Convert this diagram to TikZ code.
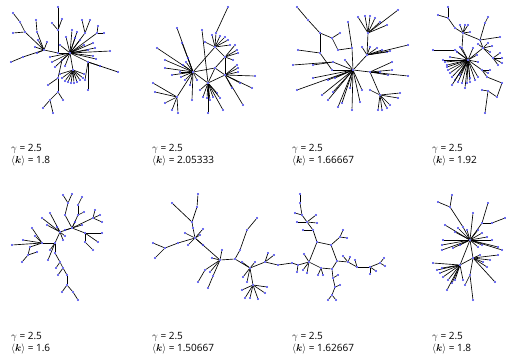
\documentclass[tikz,border=0pt]{standalone}
\usepackage{amsmath,bm}
\usepackage{fontspec}
\setmainfont{Open Sans}
\usetikzlibrary{calc}
\definecolor{dotblue}{RGB}{60,60,235}
\tikzset{
  dot/.style={circle,fill=dotblue,draw=none,inner sep=0pt,minimum size=2.2pt},
  edge/.style={draw=black,line width=0.65pt},
  lab/.style={anchor=base west,inner sep=0pt,font=\fontsize{10}{12}\selectfont}
}
\newcommand\nodes[1]{\foreach \n/\x/\y in {#1}{\node[dot] (\n) at (\x,\y) {};}}
\newcommand\edges[1]{\foreach \p/\q in {#1}{\draw[edge] (\p) -- (\q);}}
\newcommand\spokes[3]{\foreach \x/\y [count=\i] in {#3}{\node[dot] (#2\i) at (\x,\y) {}; \draw[edge] (#1) -- (#2\i);}}
\begin{document}
\begin{tikzpicture}[x=1pt,y=-1pt]
\useasboundingbox (0,0) rectangle (506,354);
% ---------------- graph 1
\nodes{aA/70/53, aB/73/70, aC/44/50, aV/58/53, aVa/58/30, aVb/58/7, aVc/52/23, aVd/62/19, aP/25/32, aPa/20/22, aPb/13/13, aPc/13/33, aQ/23/57, aQa/11/62, aR/37/32, aRa/36/20, aL/62/60, aLa/58/78, aLb/48/85, aLc/58/92, aLd/50/100, aLe/43/108, aLf/53/113, aLg/63/100, aD/88/62, aE/85/33, aEa/82/20, aEb/90/20, aF/97/33, aFa/98/26, aFb/104/33}
\edges{aA/aB, aA/aV, aV/aC, aV/aVa, aVa/aVb, aVa/aVc, aVa/aVd, aC/aP, aP/aPa, aPa/aPb, aP/aPc, aC/aQ, aQ/aQa, aC/aR, aR/aRa, aA/aL, aL/aLa, aLa/aLb, aLa/aLc, aLc/aLd, aLd/aLe, aLd/aLf, aLc/aLg, aA/aD, aA/aE, aE/aEa, aE/aEb, aA/aF, aF/aFa, aF/aFb}
\spokes{aA}{aAs}{72/30, 77/32, 66/37, 93/43, 95/48, 110/51, 93/56, 96/59, 52/62, 55/67, 65/66, 80/40, 84/45, 75/38, 60/45, 88/50, 50/57}
\spokes{aB}{aBs}{62/78, 65/81, 68/82, 71/83, 74/83, 77/82, 80/80, 83/78, 84/74, 60/74}
\spokes{aD}{aDs}{118/72, 85/80, 88/90, 100/66}
\spokes{aC}{aCs}{35/47, 37/53, 38/40, 47/42}
% ---------------- graph 2
\nodes{bA/193/72, bB/215/68, bC/208/83, bD/225/75, bE/215/47, bF/225/57, bG/216/33, bGa/228/7, bH/177/97, bI/202/30}
\edges{bA/bB, bB/bC, bA/bC, bB/bD, bC/bD, bA/bE, bE/bF, bF/bD, bB/bF, bE/bG, bG/bGa, bI/bC, bH/bA}
\spokes{bA}{bAs}{177/28, 157/48, 165/60, 165/68, 182/43, 186/62, 183/65, 180/72, 181/77, 185/80, 190/85, 192/100, 197/80, 188/58, 172/75}
\spokes{bE}{bEs}{212/35, 220/36, 225/37, 228/40, 230/45, 205/42}
\spokes{bF}{bFs}{235/45, 237/50, 238/53, 233/60}
\spokes{bH}{bHs}{165/103, 172/110, 178/113, 155/92, 153/83}
\spokes{bC}{bCs}{203/97, 207/98, 210/100, 213/97, 217/93, 208/113, 223/110, 220/98, 200/90}
\spokes{bD}{bDs}{237/65, 238/68, 238/72, 255/76, 252/88, 240/83, 243/105, 232/88}
% ---------------- graph 3
\nodes{cM/353/70, cB/368/33, cC/367/55, cD/370/72, cE/380/95, cP/297/7, cPa/308/20, cPb/320/33, cPc/332/38, cPd/340/33, cPe/338/50, cPf/352/48, cQ/320/53, cQa/332/70, cQb/298/50, cR/333/62, cRa/293/65, cRb/313/65, cS/348/22}
\edges{cP/cPa, cPa/cPb, cPb/cPc, cPc/cPd, cPc/cPe, cPe/cPf, cPf/cM, cPb/cQ, cQ/cQa, cQa/cM, cQ/cQb, cR/cRa, cR/cRb, cR/cM, cS/cPf, cM/cC, cM/cD, cB/cC, cD/cE}
\spokes{cM}{cMs}{297/90, 313/78, 328/80, 322/95, 328/100, 333/92, 338/107, 342/103, 352/110, 350/88, 360/102, 362/90, 345/60, 335/78}
\spokes{cB}{cBs}{358/17, 365/16, 370/16, 375/18, 380/22, 387/25, 398/10}
\spokes{cC}{cCs}{377/48, 382/50, 387/52, 390/51, 408/45, 362/47, 370/47}
\spokes{cD}{cDs}{392/62, 392/70, 388/75, 408/76, 380/72}
\spokes{cE}{cEs}{400/93, 398/98, 390/105, 387/108, 382/110, 378/110, 370/90}
% ---------------- graph 4
\nodes{dG/468/60, dK/483/48, dL/493/58, dT/448/7, dTa/448/18, dTb/438/15, dTc/455/28, dU/463/33, dV/462/48, dW/480/40, dWa/485/23, dWb/488/17, dWc/500/37, dX/433/50, dXa/455/50, dY/482/70, dYa/487/77, dYb/502/83, dYc/497/97, dYd/488/91, dYe/485/113, dYf/482/90}
\edges{dT/dTa, dTa/dTb, dTa/dTc, dTc/dU, dU/dV, dV/dG, dU/dW, dW/dK, dW/dWa, dWa/dWb, dW/dWc, dX/dXa, dXa/dG, dK/dG, dK/dL, dG/dY, dY/dYa, dYa/dYb, dYb/dYc, dYc/dYd, dYd/dYe, dYd/dYf}
\spokes{dG}{dGs}{445/62, 447/65, 448/70, 450/73, 452/77, 455/80, 458/82, 462/83, 467/83, 470/82, 475/80, 478/77, 457/52, 460/47, 473/48, 477/55, 478/62, 450/57, 447/67, 443/60, 452/85, 465/88, 470/78, 460/75}
\spokes{dU}{dUs}{460/25, 465/25, 468/25, 470/32}
\spokes{dK}{dKs}{488/43, 492/46, 490/52, 478/44}
\spokes{dL}{dLs}{502/58, 502/63, 500/53, 498/65}
\spokes{dY}{dYs}{488/73, 490/70}
% ---------------- graph 5
\nodes{eF/60/232, eG/72/228, eH/42/243, eI/55/243, eGa/65/215, eGb/68/203, eGc/63/195, eGd/72/194, eGe/78/215, eGf/78/205, eGg/82/197, eGh/84/212, eJ/93/218, eK/85/233, eKa/85/242, eKb/93/250, eHa/32/228, eHb/30/247, eHc/28/255, eHd/22/262, eHe/37/252, eIa/55/253, eIb/60/262, eIc/63/268, eId/67/275, eIe/67/285, eIf/62/292, eIg/73/292, eIh/78/300, eFa/50/213}
\edges{eG/eGa, eGa/eGb, eGb/eGc, eGb/eGd, eG/eGe, eGe/eGf, eGf/eGg, eGe/eGh, eG/eJ, eG/eK, eK/eKa, eKa/eKb, eF/eG, eF/eFa, eH/eHa, eH/eHb, eHb/eHc, eHc/eHd, eHc/eHe, eH/eI, eI/eF, eI/eIa, eIa/eIb, eIb/eIc, eIc/eId, eId/eIe, eIe/eIf, eIe/eIg, eIg/eIh}
\spokes{eJ}{eJs}{95/210, 100/215, 102/222}
\spokes{eK}{eKs}{102/233, 98/242}
\spokes{eG}{eGs}{75/222, 82/225, 65/230}
\spokes{eF}{eFs}{42/218, 47/225, 57/227, 63/240, 65/236}
\spokes{eH}{eHs}{23/240, 12/245, 35/236}
\spokes{eI}{eIs}{48/260, 50/250}
\spokes{eIb}{eIbs}{56/268}
\spokes{eIc}{eIcs}{58/275}
% ---------------- graph 6
\nodes{fA/198/194, fAa/197/207, fAb/172/203, fAc/192/222, fAd/193/228, fH/195/238, fCa/178/243, fCb/165/248, fCc/153/243, fCd/155/258, fHb/220/260, fJ/235/259, fJa/240/250, fJb/247/230, fJc/257/218, fHc/250/268, fHd/253/285, fK/265/262, fKa/278/265, fLa/205/270, fLb/198/282, fMa/213/276, fMb/208/288}
\edges{fA/fAa, fAa/fAc, fAb/fAc, fAc/fAd, fAd/fH, fH/fCa, fCa/fCb, fCb/fCc, fCb/fCd, fH/fHb, fHb/fJ, fJ/fJa, fJa/fJb, fJb/fJc, fJ/fHc, fHc/fHd, fHc/fK, fK/fKa, fHb/fLa, fLa/fLb, fHb/fMa, fMa/fMb}
\spokes{fH}{fHs}{185/233, 203/229, 200/235, 203/245, 188/245}
\spokes{fHb}{fHbs}{212/258, 222/250, 210/272}
\spokes{fHc}{fHcs}{242/262, 255/262, 243/277, 247/282}
\spokes{fHd}{fHds}{245/298, 250/298, 258/299, 265/293, 267/287, 242/290}
\spokes{fK}{fKs}{268/253, 274/255}
% ---------------- graph 7
\nodes{gRa/317/242, gRb/331/245, gRc/337/261, gRd/332/269, gRe/321/268, gRf/309/262, gTa/313/230, gTb/307/222, gTc/302/215, gTd/300/203, gTe/300/194, gS/340/237, gUa/348/262, gUb/357/267, gUc/370/267, gUd/380/263, gVa/333/278, gVb/335/287, gVc/332/295, gWa/298/265, gWb/292/263}
\edges{gRa/gRb, gRb/gRc, gRc/gRd, gRd/gRe, gRe/gRf, gRf/gRa, gRa/gTa, gTa/gTb, gTb/gTc, gTc/gTd, gTd/gTe, gRb/gS, gRc/gUa, gUa/gUb, gUb/gUc, gUc/gUd, gRd/gVa, gVa/gVb, gVb/gVc, gRf/gWa, gWa/gWb, fKa/gWb}
\spokes{gTb}{gTbs}{297/222, 316/215, 317/223}
\spokes{gTc}{gTcs}{295/213}
\spokes{gTa}{gTas}{303/230}
\spokes{gS}{gSs}{343/230, 347/238}
\spokes{gUa}{gUas}{343/256, 350/257}
\spokes{gUb}{gUbs}{355/260}
\spokes{gUc}{gUcs}{370/274, 376/271}
\spokes{gUd}{gUds}{384/258, 385/266}
\spokes{gVa}{gVas}{338/275}
\spokes{gVb}{gVbs}{340/285}
\spokes{gVc}{gVcs}{328/300, 336/300}
\spokes{gRe}{gRes}{323/275, 318/275}
\spokes{gRf}{gRfs}{303/270, 307/273, 304/254}
\spokes{gWa}{gWas}{297/272}
% ---------------- graph 8
\nodes{hA/470/240, hB/460/265, hC/473/258, hP/452/195, hPa/450/207, hPb/438/202, hPc/463/227, hQ/473/213, hR/488/203, hRa/482/223, hRb/492/223, hRc/505/218, hS/470/275, hSa/473/300}
\edges{hP/hPa, hPa/hPb, hPa/hPc, hPc/hA, hQ/hA, hR/hRa, hRa/hA, hRa/hRb, hRb/hRc, hA/hB, hA/hC, hB/hC, hC/hS, hS/hSa}
\spokes{hA}{hAs}{445/225, 443/240, 442/245, 442/250, 455/232, 458/228, 467/230, 478/230, 482/233, 487/237, 492/240, 498/247, 482/245, 478/247, 453/248, 460/245, 502/250}
\spokes{hB}{hBs}{433/263, 437/270, 440/273, 443/277, 448/280, 452/283, 455/280, 463/280, 447/290, 442/268}
\spokes{hC}{hCs}{483/262, 490/260, 487/267, 495/282, 480/255, 498/255}
\spokes{hS}{hSs}{465/285}
% ---------------- labels
\node[lab] (ga) at (11,151) {$\gamma$ = 2.5};
\node[lab] (ka) at (11,163) {$\langle\bm{k}\rangle$ = 1.8};
\node[lab] (gb) at (152,151) {$\gamma$ = 2.5};
\node[lab] (kb) at (152,163) {$\langle\bm{k}\rangle$ = 2.05333};
\node[lab] (gc) at (292,151) {$\gamma$ = 2.5};
\node[lab] (kc) at (292,163) {$\langle\bm{k}\rangle$ = 1.66667};
\node[lab] (gd) at (432,151) {$\gamma$ = 2.5};
\node[lab] (kd) at (432,163) {$\langle\bm{k}\rangle$ = 1.92};
\node[lab] (ge) at (11,339) {$\gamma$ = 2.5};
\node[lab] (ke) at (11,351) {$\langle\bm{k}\rangle$ = 1.6};
\node[lab] (gf) at (152,339) {$\gamma$ = 2.5};
\node[lab] (kf) at (152,351) {$\langle\bm{k}\rangle$ = 1.50667};
\node[lab] (gg) at (292,339) {$\gamma$ = 2.5};
\node[lab] (kg) at (292,351) {$\langle\bm{k}\rangle$ = 1.62667};
\node[lab] (gh) at (432,339) {$\gamma$ = 2.5};
\node[lab] (kh) at (432,351) {$\langle\bm{k}\rangle$ = 1.8};
\end{tikzpicture}
\end{document}
